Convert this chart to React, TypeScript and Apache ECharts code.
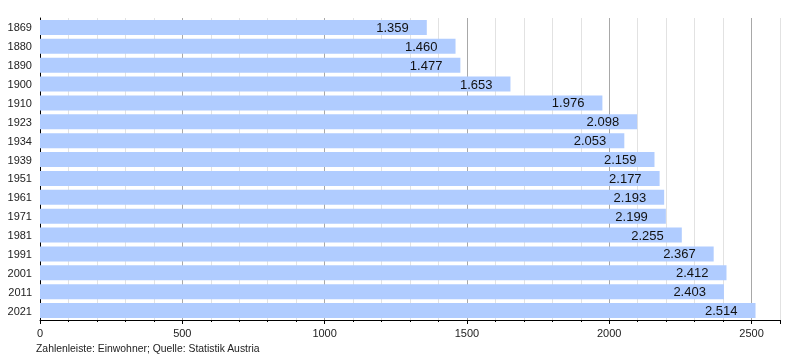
import React, { useEffect, useRef } from "react";
import * as echarts from "echarts";

const years = ["1869", "1880", "1890", "1900", "1910", "1923", "1934", "1939", "1951", "1961", "1971", "1981", "1991", "2001", "2011", "2021"];
const population = [1359, 1460, 1477, 1653, 1976, 2098, 2053, 2159, 2177, 2193, 2199, 2255, 2367, 2412, 2403, 2514];
const caption = "Zahlenleiste: Einwohner; Quelle: Statistik Austria";

const fmt = (v: number) => String(v).replace(/\B(?=(\d{3})+(?!\d))/g, ".");

export default function App() {
  const ref = useRef<HTMLDivElement>(null);
  useEffect(() => {
    if (!ref.current) return;
    const chart = echarts.init(ref.current, null, { renderer: "svg" });
    const splitColors: string[] = [];
    for (let v = 0; v <= 2600; v += 100) splitColors.push(v % 500 === 0 ? "#a8a8a8" : "#e2e2e2");
    chart.setOption({
      animation: false,
      textStyle: { fontFamily: "Liberation Sans, Arial, sans-serif" },
      grid: { left: 40, right: 20, top: 18, bottom: 40 },
      title: {
        text: caption,
        left: 31,
        top: 338,
        textStyle: { fontSize: 10.4, fontWeight: "normal", color: "#222", fontFamily: "Liberation Sans, Arial, sans-serif" },
      },
      xAxis: [
        {
          type: "value",
          min: 0,
          max: 2600,
          interval: 100,
          axisLine: { show: true, lineStyle: { color: "#000", width: 1 } },
          axisTick: { show: true, length: 2, lineStyle: { color: "#000" } },
          axisLabel: {
            fontSize: 11,
            color: "#222",
            margin: 7,
            formatter: (v: number) => (v % 500 === 0 ? String(v) : ""),
          },
          splitLine: { show: true, lineStyle: { color: splitColors, width: 1 } },
        },
        {
          type: "value",
          position: "bottom",
          min: 0,
          max: 2600,
          interval: 500,
          axisLine: { show: false },
          axisTick: { show: true, length: 4, lineStyle: { color: "#000" } },
          axisLabel: { show: false },
          splitLine: { show: false },
        },
      ],
      yAxis: {
        type: "category",
        data: years,
        inverse: true,
        axisLine: { show: true, lineStyle: { color: "#000", width: 1 } },
        axisTick: { show: false },
        axisLabel: { fontSize: 11, color: "#222", margin: 8 },
        splitLine: { show: false },
      },
      series: [
        {
          type: "bar",
          data: population,
          xAxisIndex: 0,
          barCategoryGap: "21%",
          itemStyle: { color: "#b0ccff" },
          label: {
            show: true,
            position: "insideRight",
            distance: 18,
            color: "#111",
            fontSize: 13,
            formatter: (p: any) => fmt(p.value),
          },
        },
      ],
    });
    return () => chart.dispose();
  }, []);
  return <div ref={ref} style={{ position: "fixed", left: 0, top: 0, width: 800, height: 360 }} />;
}
